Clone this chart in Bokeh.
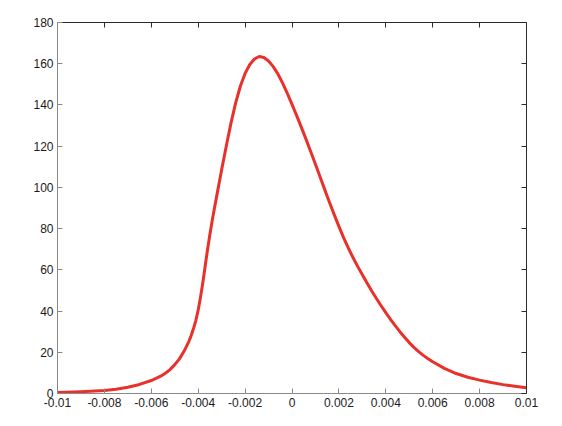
from bokeh.plotting import figure
from bokeh.models import Range1d, LinearAxis, FixedTicker
from bokeh.embed import file_html
from bokeh.resources import INLINE

# ---- data ----
x_vals = [-0.0100, -0.0090, -0.0080, -0.0075, -0.0070, -0.0065, -0.0060, -0.0058,
          -0.0056, -0.0054, -0.0052, -0.0050, -0.0048, -0.0046, -0.0044, -0.0043,
          -0.0042, -0.0041, -0.0040, -0.0039, -0.0038, -0.0037, -0.0036, -0.0035,
          -0.0034, -0.0033, -0.0032, -0.0030, -0.0028, -0.0026,
          -0.0024, -0.0022, -0.0020, -0.0018, -0.0016, -0.0014, -0.0012, -0.0010,
          -0.0008, -0.0006, -0.0004, -0.0002, 0.0000, 0.0002, 0.0004, 0.0006,
          0.0008, 0.0010, 0.0012, 0.0014, 0.0016, 0.0018, 0.0020, 0.0022,
          0.0024, 0.0026, 0.0028, 0.0030, 0.0032, 0.0034, 0.0036, 0.0038,
          0.0040, 0.0042, 0.0044, 0.0046, 0.0048, 0.0050, 0.0052, 0.0054,
          0.0056, 0.0058, 0.0060, 0.0065, 0.0070, 0.0075, 0.0080, 0.0085,
          0.0090, 0.0095, 0.0100]
y_vals = [0.5, 0.9, 1.5, 2.1, 3.0, 4.4, 6.3, 7.3,
          8.4, 9.8, 11.6, 14.0, 16.8, 20.6, 25.2, 28.1,
          31.5, 35.5, 40.5, 46.8, 54.0, 62.0, 70.0, 77.3,
          84.0, 90.4, 96.5, 108.6, 120.2, 131.3,
          141.1, 149.2, 155.3, 159.6, 162.3, 163.5, 163.0, 161.3,
          158.6, 155.0, 150.6, 145.6, 140.3, 134.8, 129.1, 123.3,
          117.3, 111.2, 105.0, 98.8, 92.7, 86.8, 81.1, 75.6,
          70.6, 66.0, 61.7, 57.6, 53.6, 49.7, 46.1, 42.6,
          39.2, 36.0, 32.9, 30.0, 27.3, 24.7, 22.4, 20.3,
          18.5, 16.9, 15.4, 12.2, 9.7, 7.9, 6.5, 5.3,
          4.3, 3.5, 2.8]

x_ticks = [-0.01, -0.008, -0.006, -0.004, -0.002, 0.0, 0.002, 0.004, 0.006, 0.008, 0.01]
x_tick_labels = ["-0.01", "-0.008", "-0.006", "-0.004", "-0.002", "0",
                 "0.002", "0.004", "0.006", "0.008", "0.01"]
y_ticks = [0, 20, 40, 60, 80, 100, 120, 140, 160, 180]
y_tick_labels = ["0", "20", "40", "60", "80", "100", "120", "140", "160", "180"]

p = figure(width=554, height=418, output_backend="svg", toolbar_location=None,
           x_range=Range1d(-0.01, 0.01), y_range=Range1d(0, 180),
           x_axis_location=None, y_axis_location=None,
           min_border_left=57, min_border_right=28, min_border_top=22, min_border_bottom=25)
p.grid.visible = False
p.outline_line_color = None
p.background_fill_color = "white"
p.border_fill_color = "white"

def style(ax, ticks, labels, line_color, show_labels):
    ax.ticker = FixedTicker(ticks=ticks)
    ax.major_label_overrides = {t: l for t, l in zip(ticks, labels)}
    ax.major_tick_in = 5
    ax.major_tick_out = 0
    ax.minor_tick_in = 0
    ax.minor_tick_out = 0
    ax.axis_line_color = line_color
    ax.major_tick_line_color = line_color
    ax.axis_line_width = 1
    ax.major_label_standoff = 4
    ax.major_label_text_font = "Liberation Sans"
    ax.major_label_text_font_size = "12px"
    ax.major_label_text_color = "#1a1a1a" if show_labels else None

bottom = LinearAxis()
style(bottom, x_ticks, x_tick_labels, "#8a8a8a", True)
left = LinearAxis()
style(left, y_ticks, y_tick_labels, "#8a8a8a", True)
top = LinearAxis()
style(top, x_ticks, x_tick_labels, "#2a2a2a", False)
top.major_label_text_font_size = "0px"
top.major_label_standoff = 0
right = LinearAxis()
style(right, y_ticks, y_tick_labels, "#2a2a2a", False)
right.major_label_text_font_size = "0px"
right.major_label_standoff = 0

p.add_layout(bottom, "below")
p.add_layout(left, "left")
p.add_layout(top, "above")
p.add_layout(right, "right")

p.line(x_vals, y_vals, line_color="#e8312a", line_width=3, line_join="round")

open("out.html", "w").write(file_html(p, INLINE))
